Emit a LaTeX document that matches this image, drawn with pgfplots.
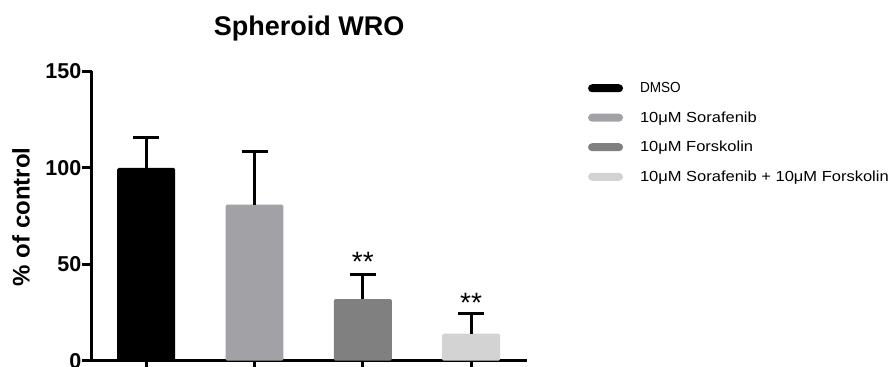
\documentclass[border=0pt]{standalone}
\usepackage{fontspec}
\setmainfont{Liberation Sans}
\usepackage{pgfplots}
\pgfplotsset{compat=1.18}
\definecolor{cSor}{HTML}{A2A2A6}
\definecolor{cFor}{HTML}{808080}
\definecolor{cCom}{HTML}{D3D3D3}
\pgfplotsset{swatch/.style={legend image code/.code={\fill[#1,rounded corners=4bp] (0bp,-4bp) rectangle (35bp,4bp); \path (52bp,0bp);}}}
\newcommand{\wide}[1]{\scalebox{1.13}[1]{#1}}
\begin{document}
\begin{tikzpicture}
\useasboundingbox (0,0) rectangle (890bp,367bp);
\begin{axis}[
  at={(91.5bp,6.3bp)}, anchor=south west,
  scale only axis, width=435.4bp, height=289.2bp,
  xmin=-0.505, xmax=3.515, ymin=0, ymax=150,
  axis x line=bottom, axis y line=left,
  axis line style={-, line width=3bp, black},
  xtick={0,1,2,3}, xticklabels={,,,},
  ytick={0,50,100,150},
  tick align=outside, major tick length=9bp,
  tick style={line width=3bp, black},
  /pgf/number format/assume math mode=true,
  yticklabel style={font=\fontsize{21.5bp}{25bp}\selectfont\bfseries, inner sep=1bp},
  ylabel={\% of control},
  ylabel style={font=\fontsize{24bp}{28bp}\selectfont\bfseries, at={(axis description cs:-0.162,0.497)}, anchor=center},
  title={Spheroid WRO},
  title style={font=\fontsize{27bp}{32bp}\selectfont\bfseries, at={(axis description cs:0.5,1)}, anchor=base, yshift=30.5bp},
  legend style={at={(axis description cs:1.140,0.963)}, anchor=north west, draw=none, fill=none, inner sep=0pt, row sep=17.5bp, column sep=0pt,
    nodes={inner sep=0pt, font=\fontsize{14.6bp}{17bp}\selectfont}},
  legend cell align=left,
]
\addplot[ybar, bar width=0.535, bar shift=0pt, fill=black, draw=none, rounded corners=1.5bp, swatch=black,
  error bars/.cd, y dir=plus, y explicit, error bar style={line width=3bp, black, sharp corners},
  error mark options={rotate=90, line width=3bp, mark size=13bp, black}]
  coordinates {(0,100) +- (0,16)};
\addlegendentry{\scalebox{0.93}[1]{DMSO}}
\addplot[ybar, bar width=0.535, bar shift=0pt, fill=cSor, draw=none, rounded corners=1.5bp, swatch=cSor,
  error bars/.cd, y dir=plus, y explicit, error bar style={line width=3bp, black, sharp corners},
  error mark options={rotate=90, line width=3bp, mark size=13bp, black}]
  coordinates {(1,81) +- (0,27.5)};
\addlegendentry{\wide{10μM Sorafenib}}
\addplot[ybar, bar width=0.535, bar shift=0pt, fill=cFor, draw=none, rounded corners=1.5bp, swatch=cFor,
  error bars/.cd, y dir=plus, y explicit, error bar style={line width=3bp, black, sharp corners},
  error mark options={rotate=90, line width=3bp, mark size=13bp, black}]
  coordinates {(2,32) +- (0,12.5)};
\addlegendentry{\wide{10μM Forskolin}}
\addplot[ybar, bar width=0.535, bar shift=0pt, fill=cCom, draw=none, rounded corners=1.5bp, swatch=cCom,
  error bars/.cd, y dir=plus, y explicit, error bar style={line width=3bp, black, sharp corners},
  error mark options={rotate=90, line width=3bp, mark size=13bp, black}]
  coordinates {(3,14) +- (0,10.5)};
\addlegendentry{\wide{10μM Sorafenib + 10μM Forskolin}}
\addplot[forget plot, only marks, mark=text, text mark={**}, text mark as node=true,
  text mark style={anchor=north, inner sep=0pt, font=\fontsize{28bp}{30bp}\selectfont}]
  coordinates {(2,56.5) (3,35)};
\end{axis}
\end{tikzpicture}
\end{document}
